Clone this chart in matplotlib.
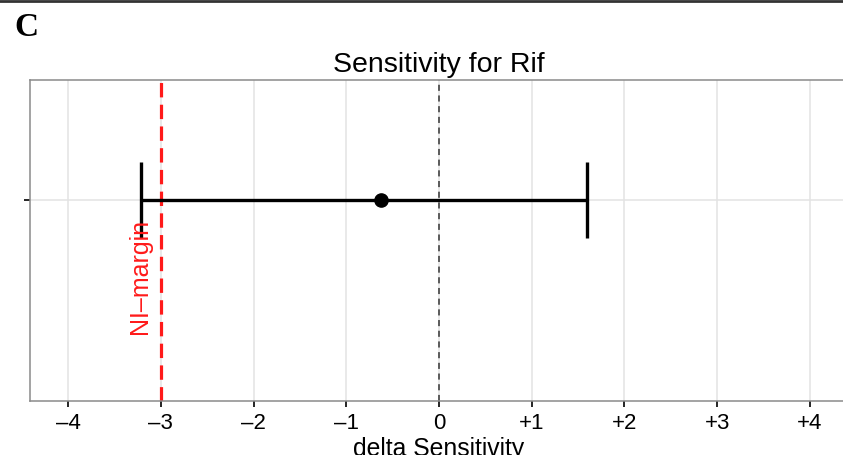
import matplotlib
matplotlib.use("Agg")
import matplotlib.pyplot as plt
from matplotlib.lines import Line2D

plt.rcParams['font.family'] = ['Liberation Sans', 'DejaVu Sans']

# Difference in sensitivity (Rif) with its confidence interval
categories = ["Rif"]
estimate = [-0.62]
ci_lower = [-3.21]
ci_upper = [1.6]
ni_margin = -3.0

tick_values = [-4, -3, -2, -1, 0, 1, 2, 3, 4]
tick_labels = ["\u20134", "\u20133", "\u20132", "\u20131", "0", "+1", "+2", "+3", "+4"]

W, H, DPI = 843, 455, 100
fig = plt.figure(figsize=(W / DPI, H / DPI), dpi=DPI)
ax = fig.add_axes([30 / W, (H - 400.5) / H, (848 - 30) / W, 320 / H])

ax.set_xlim(-4.41, 4.41)
ax.set_ylim(0, 1.6)
ypos = [1.0 for _ in categories]

# grid
for t in tick_values:
    ax.axvline(t, color="#e3e3e3", lw=1.1, zorder=0)
for y in ypos:
    ax.axhline(y, color="#e3e3e3", lw=1.1, zorder=0)

# reference lines
ax.axvline(0, color="#333333", lw=1.1, ls=(0, (4, 3)), zorder=1)
ax.axvline(ni_margin, color="#ff1a1a", lw=2.3, ls=(0, (4.5, 2.3)), zorder=2)

# interval with caps and point estimate
xerr = [[e - lo for e, lo in zip(estimate, ci_lower)],
        [hi - e for e, hi in zip(estimate, ci_upper)]]
ax.errorbar(estimate, ypos, xerr=xerr, fmt="o", color="black", ms=9.5,
            elinewidth=2.4, capsize=27.5, capthick=2.4, zorder=3)

ax.text(ni_margin - 0.22, 0.6225, "NI\u2013margin", rotation=90, color="#ff1a1a",
        fontsize=18, ha="center", va="center", zorder=4)

ax.set_xticks(tick_values)
ax.set_xticklabels(tick_labels)
ax.set_yticks(ypos)
ax.set_yticklabels([""] * len(ypos))
ax.tick_params(axis="x", length=4.5, width=1.2, color="black", labelsize=16, pad=4.5)
ax.tick_params(axis="y", length=4.5, width=1.2, color="black")
for s in ax.spines.values():
    s.set_color("#8a8a8a")
    s.set_linewidth(1.1)

ax.set_title("Sensitivity for Rif", fontsize=20.5, pad=6)
ax.set_xlabel("delta Sensitivity", fontsize=17.8, labelpad=2)

# panel letter and top rule
fig.add_artist(Line2D([0, 1], [1 - 1.3 / H, 1 - 1.3 / H], color="#333333", lw=2.0,
                      transform=fig.transFigure))
fig.text(14 / W, 1 - 36 / H, "C", fontsize=24, fontweight="bold",
         family="Liberation Serif", ha="left", va="baseline")

fig.savefig("out.png", dpi=DPI)
